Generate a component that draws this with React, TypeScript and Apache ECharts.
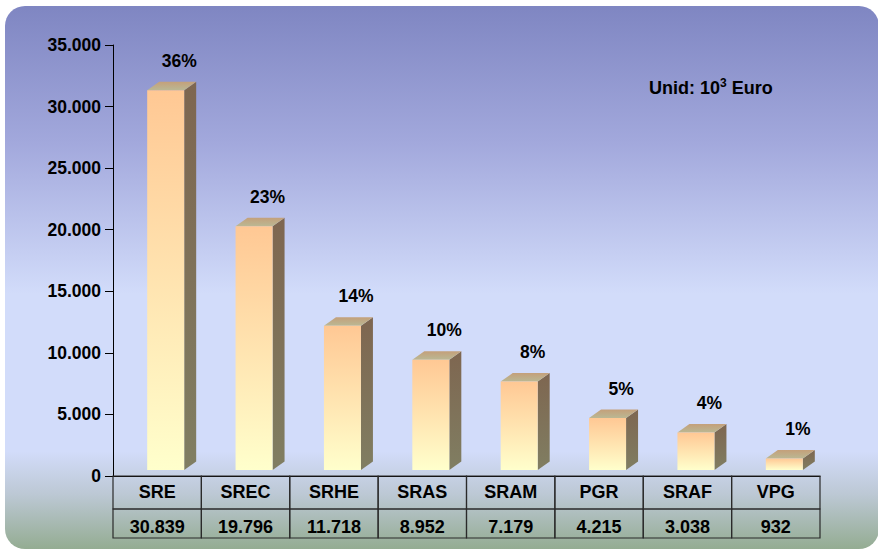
import React, { useEffect, useRef } from "react";
import * as echarts from "echarts";

const categories = ["SRE", "SREC", "SRHE", "SRAS", "SRAM", "PGR", "SRAF", "VPG"];
const values = [30839, 19796, 11718, 8952, 7179, 4215, 3038, 932];
const shares = ["36%", "23%", "14%", "10%", "8%", "5%", "4%", "1%"];
const yMin = 0;
const yMax = 35000;
const yInterval = 5000;

const FONT = '"Liberation Sans", Arial, sans-serif';

const fmt = (n: number) => String(n).replace(/\B(?=(\d{3})+(?!\d))/g, ".");

export default function App() {
  const ref = useRef<HTMLDivElement>(null);

  useEffect(() => {
    if (!ref.current) return;
    const chart = echarts.init(ref.current, null, { renderer: "svg" });
    const data = values.map((v, i) => [i, v]);

    const option: any = {
      animation: false,
      grid: { left: 113, top: 45, width: 707, height: 431 },
      graphic: [
        {
          type: "rect",
          z: -10,
          silent: true,
          shape: { x: 5, y: 6, width: 874, height: 543, r: 20 },
          style: {
            fill: new echarts.graphic.LinearGradient(0, 0, 0, 1, [
              { offset: 0, color: "#7F86C2" },
              { offset: 0.25, color: "#A2A8DC" },
              { offset: 0.53, color: "#D2DCFA" },
              { offset: 0.82, color: "#D2DCFA" },
              { offset: 0.9, color: "#BCC8D4" },
              { offset: 1, color: "#94AC92" },
            ]),
          },
        },
        {
          type: "text",
          z: 10,
          left: 649,
          top: 77,
          style: {
            text: "{a|Unid: 10}{s|3}{a| Euro}",
            rich: {
              a: { fontSize: 18, fontWeight: "bold", fontFamily: FONT, fill: "#000", color: "#000", lineHeight: 22 },
              s: { fontSize: 12, fontWeight: "bold", fontFamily: FONT, fill: "#000", color: "#000", lineHeight: 12, verticalAlign: "top" },
            },
          },
        },
      ],
      xAxis: {
        type: "category",
        data: categories,
        axisLine: { show: true, lineStyle: { color: "#000", width: 1 } },
        axisTick: { show: false },
        axisLabel: { show: false },
        splitLine: { show: false },
      },
      yAxis: {
        type: "value",
        min: yMin,
        max: yMax,
        interval: yInterval,
        axisLine: { show: true, lineStyle: { color: "#000", width: 1 } },
        axisTick: { show: true, inside: false, length: 8, lineStyle: { color: "#000" } },
        axisLabel: {
          margin: 12,
          formatter: (v: number) => fmt(v),
          color: "#000",
          fontWeight: "bold",
          fontSize: 17.5,
          fontFamily: FONT,
        },
        splitLine: { show: false },
      },
      series: [
        {
          type: "custom",
          clip: false,
          data,
          encode: { x: 0, y: 1 },
          renderItem: (params: any, api: any) => {
            const i = api.value(0);
            const v = api.value(1);
            const base = api.coord([i, 0]);
            const top = api.coord([i, v]);
            const cx = base[0];
            const fx0 = cx - 10;
            const fx1 = cx + 27;
            const y0 = base[1] - 6;
            const y1 = top[1] - 6;
            const dx = 12;
            const dy = -8.5;
            return {
              type: "group",
              children: [
                {
                  type: "polygon",
                  shape: { points: [[fx1, y1], [fx1 + dx, y1 + dy], [fx1 + dx, y0 + dy], [fx1, y0]] },
                  style: {
                    fill: new echarts.graphic.LinearGradient(0, 0, 0, 1, [
                      { offset: 0, color: "#7E6650" },
                      { offset: 1, color: "#807E62" },
                    ]),
                  },
                },
                {
                  type: "polygon",
                  shape: { points: [[fx0, y1], [fx1, y1], [fx1 + dx, y1 + dy], [fx0 + dx, y1 + dy]] },
                  style: {
                    fill: new echarts.graphic.LinearGradient(0, 0, 0, 1, [
                      { offset: 0, color: "#C4A07A" },
                      { offset: 1, color: "#BAB894" },
                    ]),
                  },
                },
                {
                  type: "rect",
                  shape: { x: fx0, y: y1, width: fx1 - fx0, height: y0 - y1 },
                  style: {
                    fill: new echarts.graphic.LinearGradient(0, 0, 0, 1, [
                      { offset: 0, color: "#FFC894" },
                      { offset: 1, color: "#FFFFCC" },
                    ]),
                  },
                },
                {
                  type: "text",
                  x: cx + 22,
                  y: y1 + dy - 21,
                  style: {
                    text: shares[i],
                    fill: "#000",
                    fontSize: 17.5,
                    fontWeight: "bold",
                    fontFamily: FONT,
                    align: "center",
                    verticalAlign: "middle",
                  },
                },
              ],
            };
          },
        },
        {
          type: "custom",
          clip: false,
          data,
          encode: { x: 0, y: 1 },
          renderItem: (params: any, api: any) => {
            const i = api.value(0);
            const v = api.value(1);
            const base = api.coord([i, 0]);
            const bw = api.size([1, 0])[0];
            const cx = base[0];
            const y0 = base[1];
            const h1 = 33;
            const h2 = 29;
            const cellStyle = { fill: "none", stroke: "#2A2A2A", lineWidth: 1.2 };
            const txt = (t: string, y: number) => ({
              type: "text",
              x: cx,
              y,
              style: {
                text: t,
                fill: "#000",
                fontSize: 18,
                fontWeight: "bold",
                fontFamily: FONT,
                align: "center",
                verticalAlign: "middle",
              },
            });
            return {
              type: "group",
              children: [
                { type: "rect", shape: { x: cx - bw / 2, y: y0, width: bw, height: h1 }, style: cellStyle },
                { type: "rect", shape: { x: cx - bw / 2, y: y0 + h1, width: bw, height: h2 }, style: cellStyle },
                txt(categories[i], y0 + 16),
                txt(fmt(v), y0 + h1 + 17.5),
              ],
            };
          },
        },
      ],
    };

    chart.setOption(option);
    return () => chart.dispose();
  }, []);

  return (
    <div
      ref={ref}
      style={{ position: "absolute", left: 0, top: 0, width: 878, height: 550, background: "#fff" }}
    />
  );
}
